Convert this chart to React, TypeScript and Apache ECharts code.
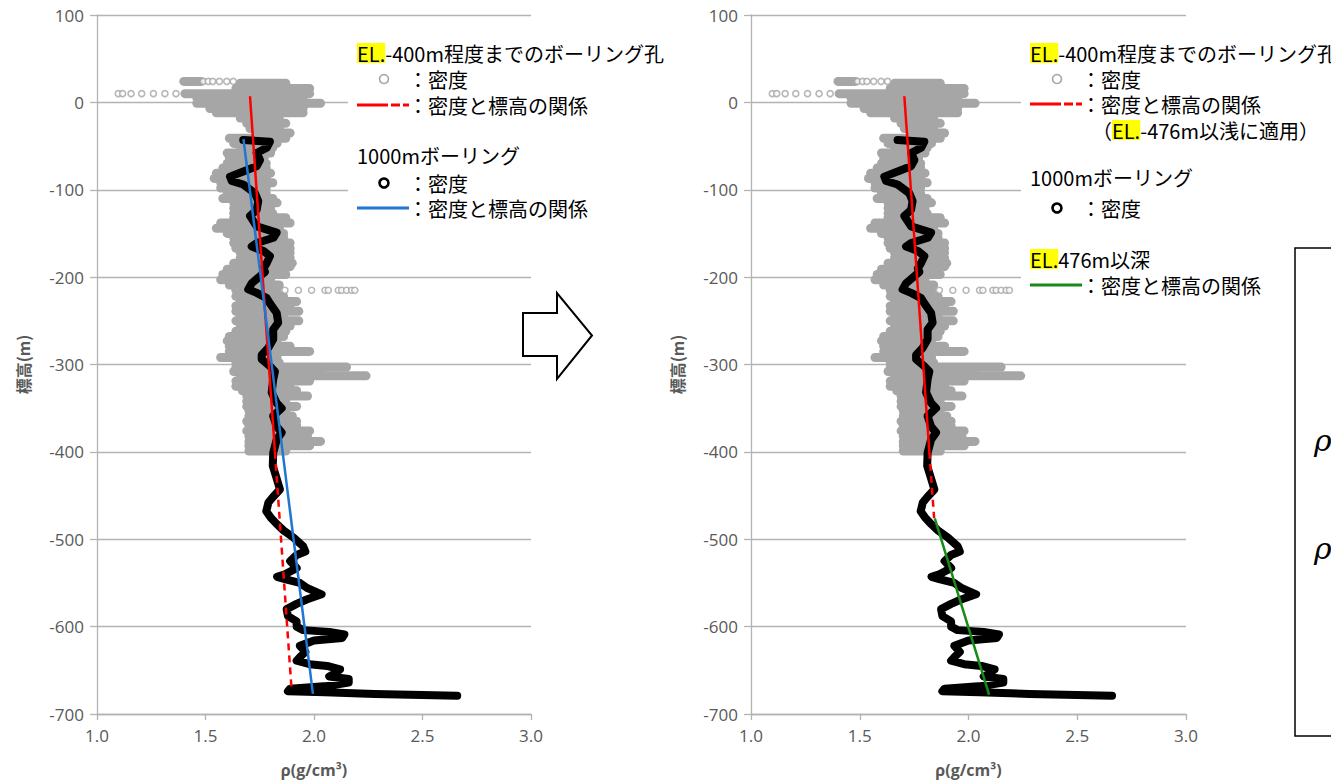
import React, { useEffect, useRef } from "react";
import * as echarts from "echarts";

// ---- data ----
// shallow boreholes (to about EL.-400m): dense rows of density points [elevation, min rho, max rho]
const shallowRows: number[][] = [
  [24, 1.4, 1.48], [22, 1.66, 1.87], [16, 1.64, 1.98], [10, 1.405, 1.98], [5, 1.46, 1.95],
  [-1, 1.46, 2.03], [-7, 1.52, 1.95], [-12, 1.55, 1.95], [-18, 1.66, 1.84], [-24, 1.69, 1.87],
  [-30, 1.705, 1.84], [-35, 1.74, 1.89], [-41, 1.61, 1.87], [-47, 1.63, 1.83], [-52, 1.66, 1.81],
  [-58, 1.6, 1.8], [-64, 1.61, 1.77], [-70, 1.6, 1.78], [-75, 1.58, 1.78], [-81, 1.55, 1.8],
  [-87, 1.54, 1.78], [-92, 1.57, 1.81], [-98, 1.57, 1.78], [-104, 1.6, 1.78], [-110, 1.58, 1.81],
  [-115, 1.63, 1.83], [-121, 1.63, 1.8], [-127, 1.63, 1.81], [-132, 1.63, 1.87], [-138, 1.57, 1.89],
  [-144, 1.55, 1.84], [-150, 1.6, 1.86], [-155, 1.63, 1.86], [-161, 1.63, 1.89], [-167, 1.64, 1.89],
  [-172, 1.66, 1.89], [-178, 1.66, 1.89], [-184, 1.63, 1.9], [-188, 1.69, 1.89], [-191, 1.6, 1.84],
  [-197, 1.58, 1.87], [-203, 1.57, 1.8], [-209, 1.61, 1.84], [-215, 1.64, 1.83], [-222, 1.64, 1.86],
  [-228, 1.66, 1.92], [-233, 1.64, 1.89], [-239, 1.64, 1.93], [-245, 1.66, 1.86], [-250, 1.64, 1.93],
  [-256, 1.66, 1.89], [-262, 1.64, 1.87], [-268, 1.61, 1.86], [-273, 1.6, 1.83], [-279, 1.61, 1.89],
  [-285, 1.61, 1.98], [-292, 1.57, 1.83], [-298, 1.64, 1.84], [-303, 1.64, 2.15], [-308, 1.63, 2.03],
  [-313, 1.66, 2.24], [-319, 1.64, 1.98], [-325, 1.64, 1.89], [-330, 1.67, 1.92], [-336, 1.69, 1.97],
  [-342, 1.69, 1.87], [-348, 1.69, 1.92], [-353, 1.7, 1.87], [-359, 1.7, 1.9], [-365, 1.69, 1.92],
  [-370, 1.7, 1.92], [-376, 1.69, 1.98], [-382, 1.7, 1.97], [-388, 1.7, 2.03], [-393, 1.7, 1.98],
  [-399, 1.7, 1.87],
];
// isolated shallow-borehole points [rho, elevation]
const shallowSparse: number[][] = [
  [1.49, 24], [1.513, 24], [1.533, 24], [1.564, 24], [1.598, 24], [1.628, 24],
  [1.098, 10], [1.118, 10], [1.157, 10], [1.206, 10], [1.26, 10], [1.313, 10], [1.364, 10],
  [1.866, -215], [1.928, -215], [1.989, -215], [2.051, -215], [2.066, -215], [2.112, -215],
  [2.127, -215], [2.15, -215], [2.173, -215], [2.188, -215],
];
// 1000m boring density [rho, elevation]
const boring1000: number[][] = [
  [1.674, -43], [1.797, -45], [1.782, -52], [1.736, -58], [1.751, -66], [1.736, -73], [1.674, -79],
  [1.613, -85], [1.621, -90], [1.674, -94], [1.728, -104], [1.743, -113], [1.736, -123], [1.705, -130],
  [1.736, -142], [1.828, -149], [1.813, -155], [1.736, -161], [1.713, -165], [1.767, -170], [1.797, -176],
  [1.782, -184], [1.767, -190], [1.774, -194], [1.751, -199], [1.713, -207], [1.697, -214], [1.736, -218],
  [1.782, -224], [1.797, -230], [1.828, -241], [1.835, -252], [1.812, -260], [1.812, -271], [1.789, -281],
  [1.759, -289], [1.759, -294], [1.797, -302], [1.82, -308], [1.812, -317], [1.805, -332], [1.828, -344],
  [1.851, -350], [1.812, -359], [1.828, -371], [1.851, -378], [1.828, -386], [1.812, -401], [1.81, -416],
  [1.825, -428], [1.843, -443], [1.81, -452], [1.79, -458], [1.78, -468], [1.8, -475], [1.83, -483],
  [1.86, -490], [1.905, -498], [1.95, -508], [1.96, -514], [1.92, -518], [1.89, -525], [1.92, -533],
  [1.866, -540], [1.83, -543], [1.87, -546], [1.935, -550], [1.97, -556], [2.035, -563], [1.966, -569],
  [1.92, -574], [1.874, -580], [1.88, -588], [1.92, -594], [1.92, -600], [1.95, -604], [2.07, -606],
  [2.14, -609], [2.13, -613], [2.0, -616], [1.935, -622], [1.96, -629], [1.935, -635], [1.92, -639],
  [1.98, -643], [2.06, -645], [2.12, -649], [2.1, -653], [2.07, -657], [2.16, -660], [2.16, -664],
  [2.06, -668], [1.89, -671], [1.88, -674], [2.05, -675], [2.28, -677], [2.66, -679],
];
// density-elevation relations [rho, elevation]
const redSolid: number[][] = [[1.705, 7], [1.82, -400]];
const redDashedLeft: number[][] = [[1.82, -400], [1.897, -673]];
const redDashedRight: number[][] = [[1.82, -400], [1.842, -476]];
const blueFit: number[][] = [[1.675, -42], [1.995, -677]];
const greenFit: number[][] = [[1.845, -476], [2.095, -678]];

const xRange = [1, 3];
const xStep = 0.5;
const yRange = [-700, 100];
const yStep = 100;

const GRAY = "#a6a6a6";
const AXC = "#b3b3b3";
const LBL = "#595959";
const JP = '"Noto Sans CJK JP", sans-serif';
const NUMF = '"Open Sans", sans-serif';
const FS = 20;
const LH = 21;

function renderRow(params: any, api: any) {
  const y = api.value(0);
  const p1 = api.coord([api.value(1), y]);
  const p2 = api.coord([api.value(2), y]);
  const h = 9;
  return {
    type: "rect",
    shape: { x: p1[0] - h / 2, y: p1[1] - h / 2, width: p2[0] - p1[0] + h, height: h, r: h / 2 },
    style: { fill: GRAY },
  };
}

function makeAxes(i: number) {
  const x = {
    gridIndex: i, type: "value", min: xRange[0], max: xRange[1], interval: xStep,
    axisLine: { show: true, onZero: false, lineStyle: { color: AXC, width: 1.3 } },
    axisTick: { show: true, length: 6, lineStyle: { color: AXC, width: 1.3 } },
    splitLine: { show: false },
    axisLabel: { color: LBL, fontSize: 17, fontFamily: NUMF, margin: 13, formatter: (v: number) => v.toFixed(1) },
    name: "ρ(g/cm³)", nameLocation: "middle", nameGap: 48,
    nameTextStyle: { color: LBL, fontSize: 16, fontWeight: "bold", fontFamily: NUMF },
  };
  const y = {
    gridIndex: i, type: "value", min: yRange[0], max: yRange[1], interval: yStep,
    axisLine: { show: true, onZero: false, lineStyle: { color: AXC, width: 1.3 } },
    axisTick: { show: true, length: 7, lineStyle: { color: AXC, width: 1.3 } },
    splitLine: { show: true, lineStyle: { color: AXC, width: 1.3 } },
    axisLabel: { color: LBL, fontSize: 17, fontFamily: NUMF, margin: 13 },
    name: "標高(m)", nameLocation: "middle", nameRotate: 90, nameGap: 66,
    nameTextStyle: { color: LBL, fontSize: 16, fontWeight: "bold", fontFamily: JP },
  };
  return { x, y };
}

function seriesFor(i: number, right: boolean) {
  const base = { xAxisIndex: i, yAxisIndex: i };
  const list: any[] = [
    { ...base, type: "custom", renderItem: renderRow, data: shallowRows, encode: { x: [1, 2], y: 0 }, silent: true },
    {
      ...base, type: "scatter", data: shallowSparse, symbol: "circle", symbolSize: 6,
      itemStyle: { color: "#ffffff", borderColor: GRAY, borderWidth: 1.6 },
    },
    {
      ...base, type: "line", data: boring1000, showSymbol: false, symbol: "none",
      lineStyle: { color: "#000000", width: 8, cap: "round", join: "round" },
    },
    { ...base, type: "line", data: redSolid, symbol: "none", lineStyle: { color: "#ff0000", width: 2.5 } },
    {
      ...base, type: "line", data: right ? redDashedRight : redDashedLeft, symbol: "none",
      lineStyle: { color: "#ff0000", width: 2.5, type: [7, 5] },
    },
  ];
  if (right) {
    list.push({ ...base, type: "line", data: greenFit, symbol: "none", lineStyle: { color: "#178a17", width: 2.5 } });
  } else {
    list.push({ ...base, type: "line", data: blueFit, symbol: "none", lineStyle: { color: "#1f77d4", width: 2.5 } });
  }
  return list;
}

const hlRich = { hl: { backgroundColor: "#ffff00", fontSize: FS, fontFamily: JP, lineHeight: LH } };

function txt(x: number, y: number, text: string) {
  return {
    type: "text", x, y, z: 10,
    style: {
      text, fontSize: FS, lineHeight: LH, fontFamily: JP, fill: "#000",
      align: "left", verticalAlign: "middle", rich: hlRich,
    },
  };
}
function hline(x1: number, x2: number, y: number, color: string) {
  return { type: "line", z: 10, shape: { x1, y1: y, x2, y2: y }, style: { stroke: color, lineWidth: 3 } };
}
function marker(x: number, y: number, color: string, w: number) {
  return { type: "circle", z: 10, shape: { cx: x, cy: y, r: 4.5 }, style: { fill: "#fff", stroke: color, lineWidth: w } };
}

export default function App() {
  const ref = useRef<HTMLDivElement>(null);
  useEffect(() => {
    if (!ref.current) return;
    const chart = echarts.init(ref.current, null, { renderer: "svg" });
    const a0 = makeAxes(0);
    const a1 = makeAxes(1);
    const graphic: any[] = [
      // legend backgrounds
      { type: "rect", z: 5, shape: { x: 348, y: 36, width: 330, height: 188 }, style: { fill: "#fff" } },
      { type: "rect", z: 5, shape: { x: 1021, y: 36, width: 320, height: 262 }, style: { fill: "#fff" } },
      // left legend
      txt(357, 53, "{hl|EL.}-400m程度までのボーリング孔"),
      marker(384, 79, GRAY, 1.6),
      txt(408, 79, "：密度"),
      hline(357, 388, 105, "#ff0000"), hline(391, 400, 105, "#ff0000"), hline(403, 409, 105, "#ff0000"),
      txt(408, 105, "：密度と標高の関係"),
      txt(357, 155, "1000mボーリング"),
      marker(384, 183, "#000", 2.6),
      txt(408, 183, "：密度"),
      hline(357, 409, 208, "#1f77d4"),
      txt(408, 208, "：密度と標高の関係"),
      // right legend
      txt(1030, 53, "{hl|EL.}-400m程度までのボーリング孔"),
      marker(1057, 79, GRAY, 1.6),
      txt(1081, 79, "：密度"),
      hline(1030, 1061, 104, "#ff0000"), hline(1064, 1073, 104, "#ff0000"), hline(1076, 1082, 104, "#ff0000"),
      txt(1081, 104, "：密度と標高の関係"),
      txt(1092, 130, "（{hl|EL.}-476m以浅に適用）"),
      txt(1030, 177, "1000mボーリング"),
      marker(1057, 208, "#000", 2.6),
      txt(1081, 208, "：密度"),
      txt(1030, 259, "{hl|EL.}476m以深"),
      hline(1030, 1082, 285, "#178a17"),
      txt(1081, 285, "：密度と標高の関係"),
      // arrow
      {
        type: "polygon", z: 10,
        shape: { points: [[523, 313], [557, 313], [557, 293], [592, 335.5], [557, 379], [557, 356], [523, 356]] },
        style: { fill: "#fff", stroke: "#000", lineWidth: 2 },
      },
      // formula box (cut by the right edge)
      { type: "rect", z: 11, shape: { x: 1295, y: 248, width: 80, height: 488 }, style: { fill: "none", stroke: "#000", lineWidth: 1.5 } },
      {
        type: "text", z: 11, x: 1314, y: 440,
        style: { text: "ρ", fontSize: 30, fontStyle: "italic", fontFamily: '"DejaVu Serif", serif', fill: "#000", verticalAlign: "middle" },
      },
      {
        type: "text", z: 11, x: 1314, y: 548,
        style: { text: "ρ", fontSize: 30, fontStyle: "italic", fontFamily: '"DejaVu Serif", serif', fill: "#000", verticalAlign: "middle" },
      },
    ];
    chart.setOption({
      animation: false,
      backgroundColor: "#ffffff",
      grid: [
        { left: 97, top: 15, width: 434, height: 700 },
        { left: 751, top: 15, width: 435, height: 700 },
      ],
      xAxis: [a0.x, a1.x],
      yAxis: [a0.y, a1.y],
      series: [...seriesFor(0, false), ...seriesFor(1, true)],
      graphic,
    });
    return () => chart.dispose();
  }, []);
  return <div ref={ref} style={{ position: "fixed", left: 0, top: 0, width: 1331, height: 783 }} />;
}
